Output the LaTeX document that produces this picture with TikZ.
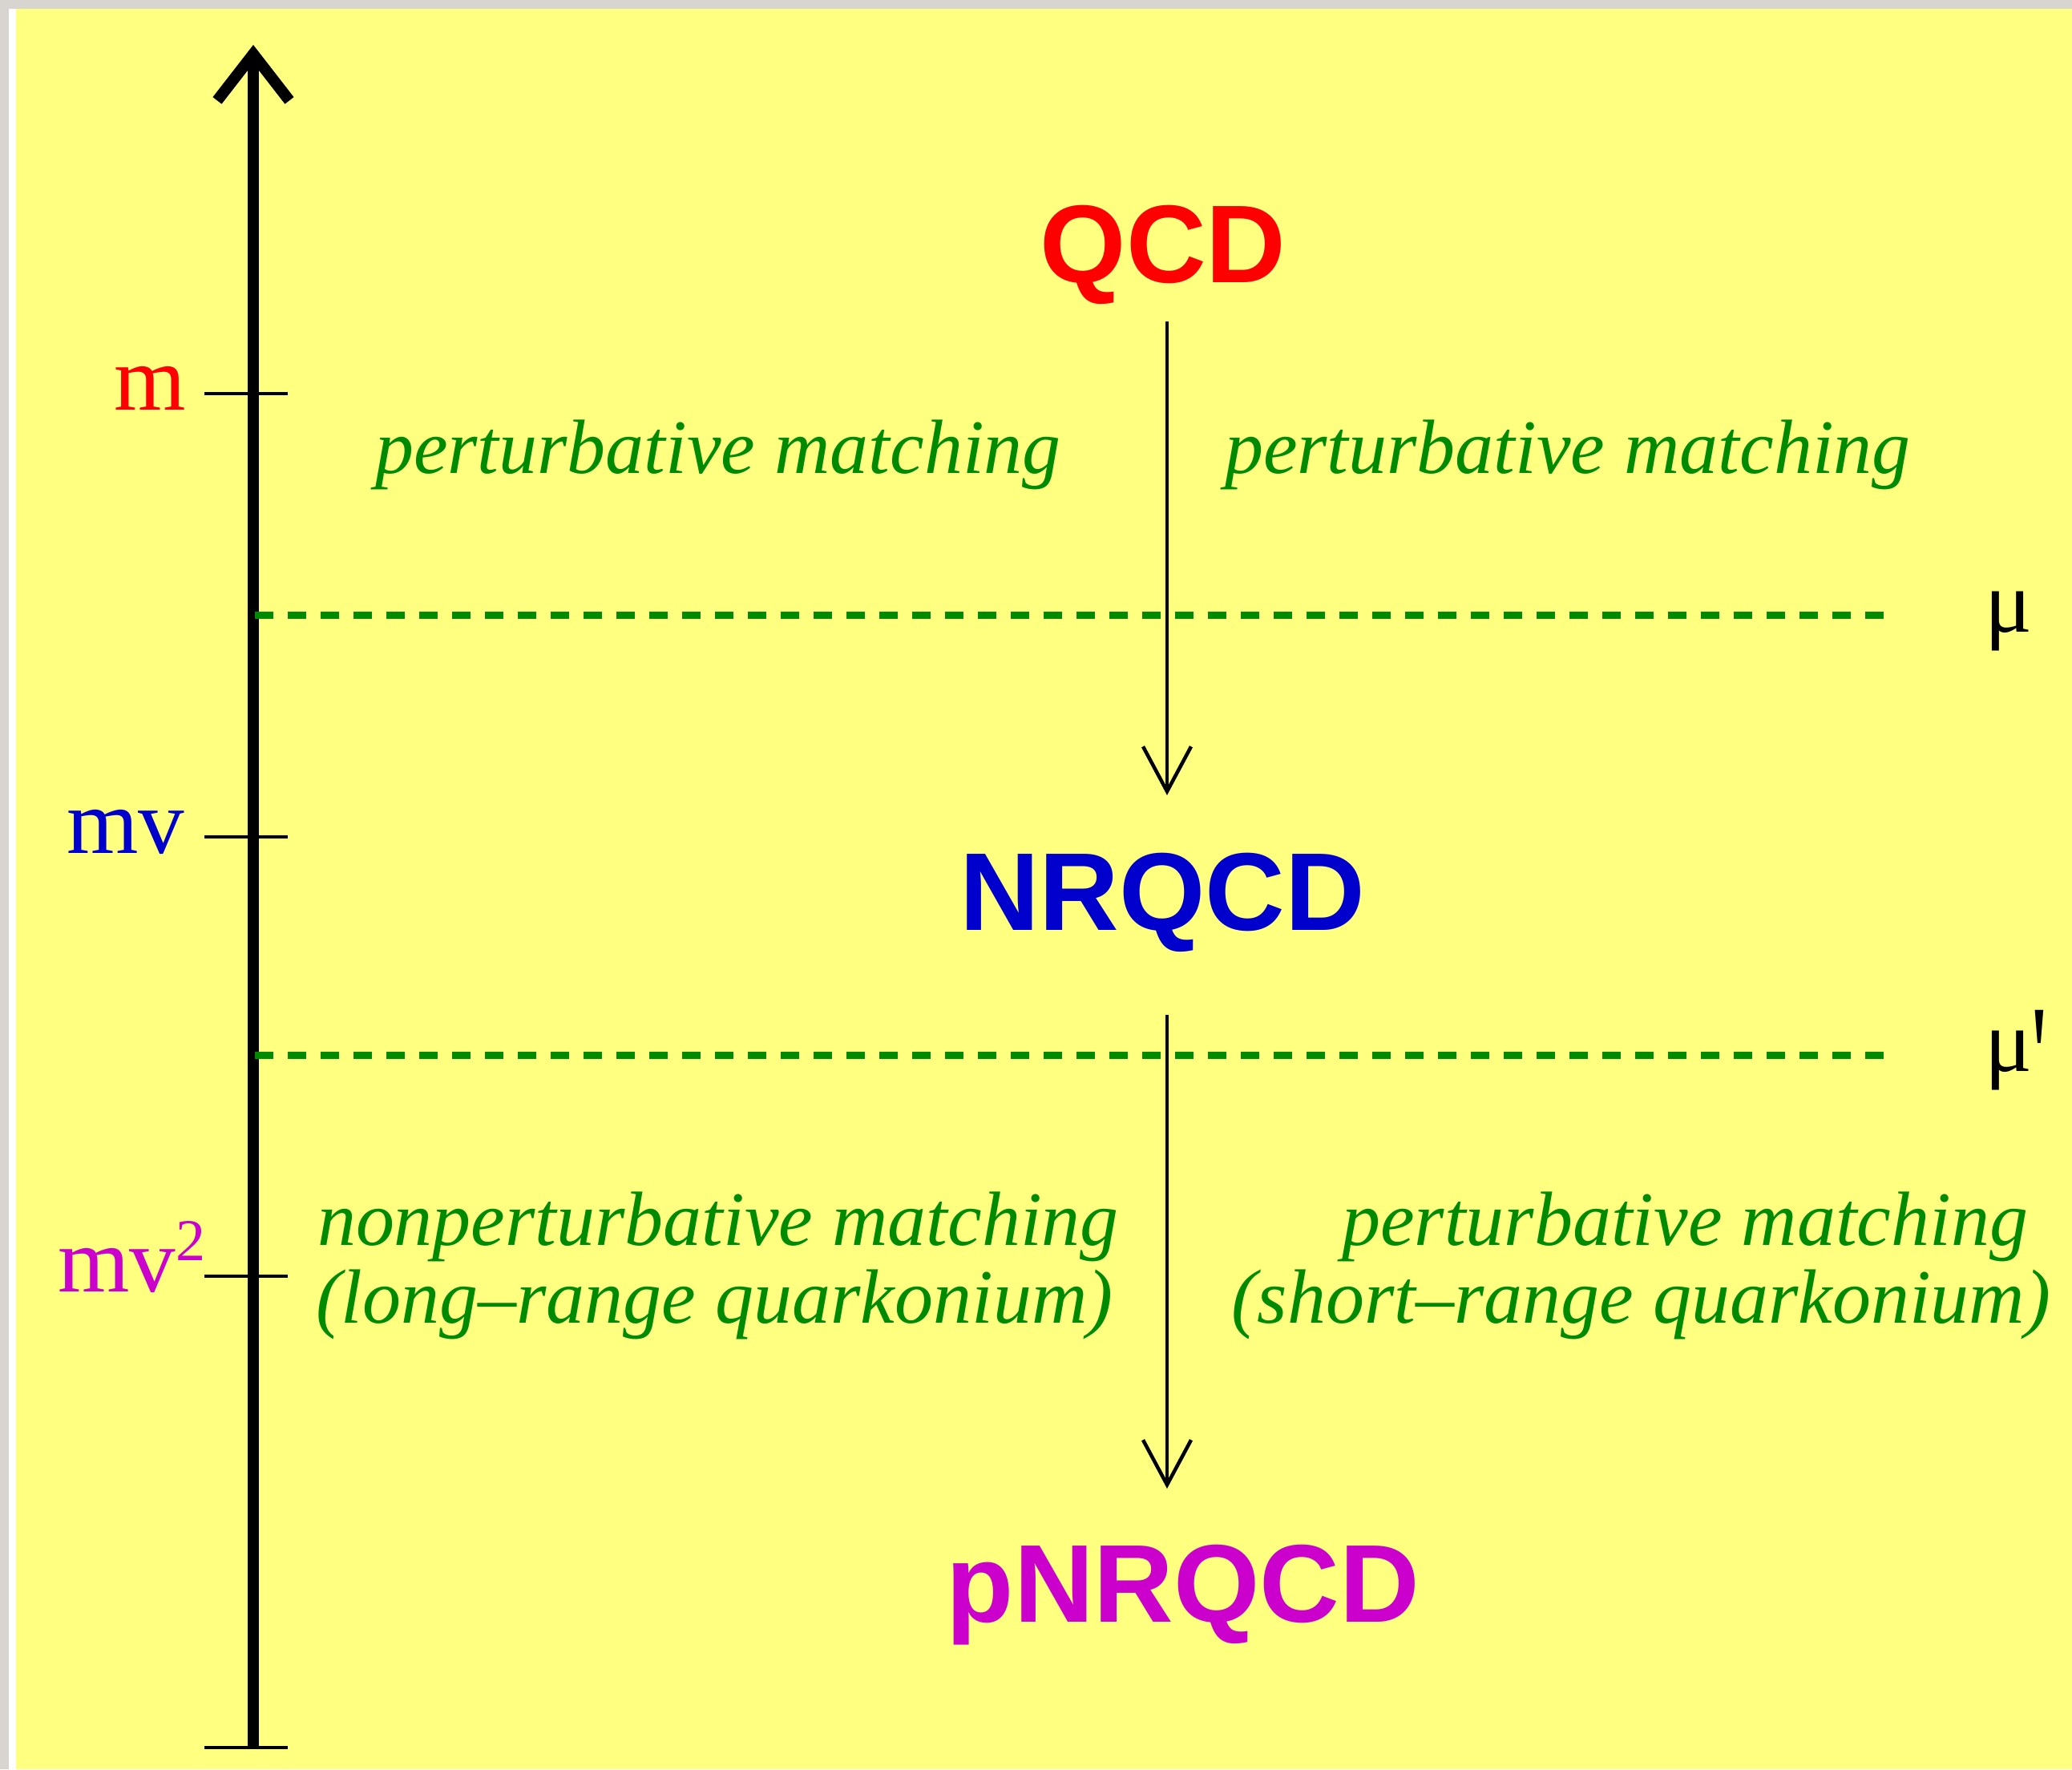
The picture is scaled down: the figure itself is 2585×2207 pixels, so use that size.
\documentclass[tikz,border=0pt]{standalone}
\usepackage{fontspec}
\setmainfont{Liberation Serif}
\newfontfamily\sansf{Liberation Sans}
\usetikzlibrary{arrows.meta}
\definecolor{bgyellow}{RGB}{255,255,128}
\definecolor{bordergray}{RGB}{216,212,208}
\definecolor{txtgreen}{RGB}{0,138,0}
\definecolor{nrblue}{RGB}{0,0,204}
\definecolor{pmag}{RGB}{204,0,204}
\definecolor{qred}{RGB}{255,0,0}
\tikzset{
  bigname/.style={inner sep=0pt, font=\sansf\bfseries\fontsize{13.8}{16}\selectfont},
  matchtxt/.style={inner sep=0pt, text=txtgreen, font=\itshape\fontsize{9.6}{11}\selectfont},
  scalelbl/.style={inner sep=0pt, font=\fontsize{11.5}{13}\selectfont},
  mulbl/.style={inner sep=0pt, font=\fontsize{11}{13}\selectfont},
  tickline/.style={line width=0.4pt},
  dashline/.style={draw=txtgreen, line width=0.9pt, dash pattern=on 2.3pt off 1.8pt},
  flowarrow/.style={line width=0.35pt, -{Straight Barb[length=5.6pt,width=6pt,line width=0.45pt]}},
}
\begin{document}
\begin{tikzpicture}[x=0.1pt,y=-0.1pt]
\useasboundingbox (0,0) rectangle (2585,2207);
\fill[bordergray] (0,0) rectangle (2585,2207);
\fill[white] (11,11) rectangle (20,2207);
\fill[bgyellow] (20,11) rectangle (2585,2207);

% axis
\coordinate (axbot) at (316,2180);
\coordinate (axtop) at (316,56);
\draw[line width=1.4pt, -{Straight Barb[length=5.8pt,width=9.0pt]}] (axbot) -- (axtop);
\coordinate (cbl) at (255,2180); \coordinate (cbr) at (359,2180);
\draw[tickline] (cbl) -- (cbr);
\coordinate (t1l) at (255,491); \coordinate (t1r) at (359,491);
\coordinate (t2l) at (255,1044); \coordinate (t2r) at (359,1044);
\coordinate (t3l) at (255,1592); \coordinate (t3r) at (359,1592);
\draw[tickline] (t1l) -- (t1r);
\draw[tickline] (t2l) -- (t2r);
\draw[tickline] (t3l) -- (t3r);

% scale labels
\node[scalelbl, text=qred, anchor=base east] (lm) at (234,511) {m};
\node[scalelbl, text=nrblue, anchor=base east] (lmv) at (232,1064) {mv};
\node[scalelbl, text=pmag, anchor=base east] (lmv2) at (258,1611) {mv\raisebox{3.9pt}{\fontsize{7.4}{9}\selectfont 2}};

% dashed lines
\coordinate (d1l) at (318,767); \coordinate (d1r) at (2366,767);
\coordinate (d2l) at (318,1316); \coordinate (d2r) at (2366,1316);
\draw[dashline] (d1l) -- (d1r);
\draw[dashline] (d2l) -- (d2r);
\node[mulbl, anchor=base west] (mu1) at (2474,788) {μ};
\node[mulbl, anchor=base west] (mu2) at (2474,1336) {μ\raisebox{-3.9pt}{\scalebox{1}[1.6]{\textquotesingle}}};

% theory names
\node[bigname, text=qred, anchor=base] (qcd) at (1451,352) {QCD};
\node[bigname, text=nrblue, anchor=base] (nrqcd) at (1450,1160) {NRQCD};
\node[bigname, text=pmag, anchor=base] (pnrqcd) at (1476,2023) {pNRQCD};

% arrows
\coordinate (a1s) at (1456,401); \coordinate (a1e) at (1456,992);
\coordinate (a2s) at (1456,1266); \coordinate (a2e) at (1456,1857);
\draw[flowarrow] (a1s) -- (a1e);
\draw[flowarrow] (a2s) -- (a2e);

% matching texts
\node[matchtxt, anchor=base west] (pm1) at (466,590) {perturbative matching};
\node[matchtxt, anchor=base west] (pm2) at (1526,590) {perturbative matching};
\node[matchtxt, anchor=base west] (npm) at (394,1553) {nonperturbative matching};
\node[matchtxt, anchor=base west] (lr) at (392,1650) {(long--range quarkonium)};
\node[matchtxt, anchor=base east] (pm3) at (2532,1553) {perturbative matching};
\node[matchtxt, anchor=base east] (sr) at (2560,1650) {(short--range quarkonium)};
\end{tikzpicture}
\end{document}
